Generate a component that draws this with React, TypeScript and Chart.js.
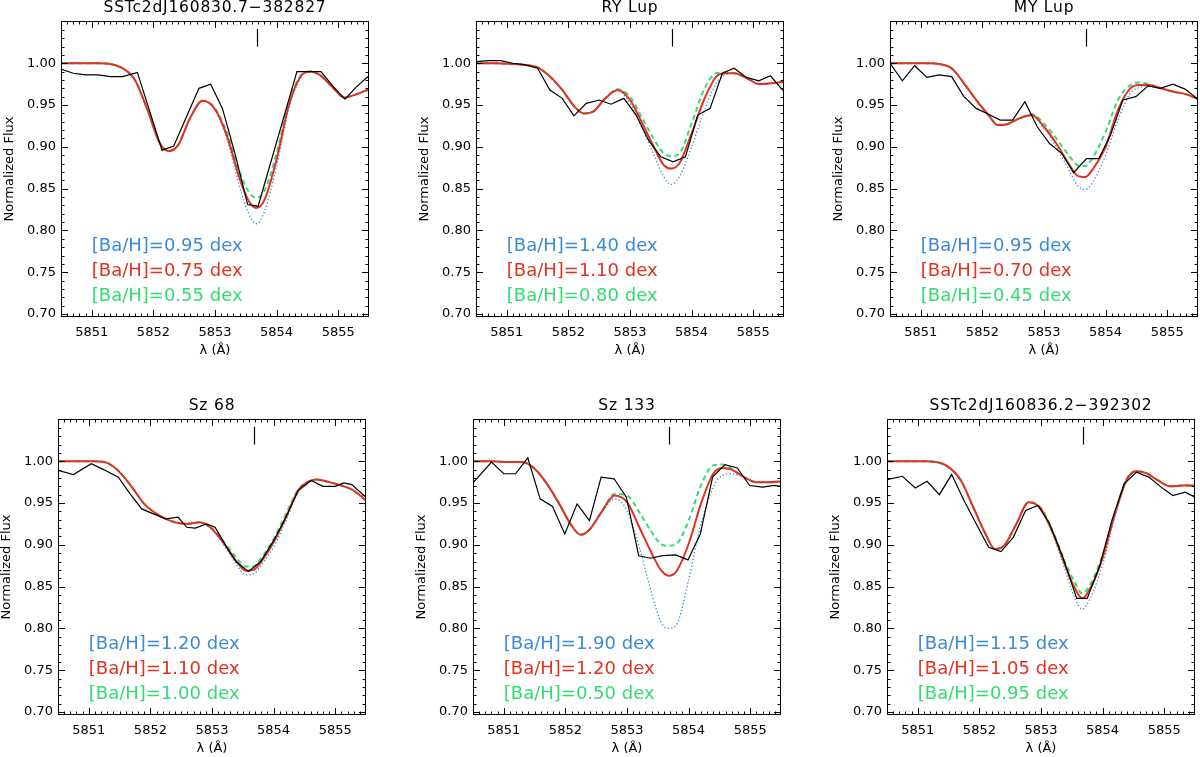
import { useEffect, useRef } from 'react';
import { Chart, registerables } from 'chart.js';

Chart.register(...registerables);

// axis ticks
const X_TICKS = [5851, 5852, 5853, 5854, 5855];
const Y_TICKS = [0.7, 0.75, 0.8, 0.85, 0.9, 0.95, 1.0];

// wavelength grid the synthetic spectra were read on
const SYN_X = [5850.5, 5850.8, 5851.1, 5851.3, 5851.5, 5851.7, 5851.9, 5852.1, 5852.25, 5852.4, 5852.6, 5852.8,
  5853.0, 5853.2, 5853.4, 5853.55, 5853.67, 5853.8, 5854.0, 5854.2, 5854.4, 5854.55, 5854.7, 5854.9, 5855.1, 5855.3, 5855.5];

const TITLES = ['SSTc2dJ160830.7−382827', 'RY Lup', 'MY Lup', 'Sz 68', 'Sz 133', 'SSTc2dJ160836.2−392302'];

// [Ba/H] for blue / red / green
const P1_ABUND = ['0.95', '0.75', '0.55'];
const P2_ABUND = ['1.40', '1.10', '0.80'];
const P3_ABUND = ['0.95', '0.70', '0.45'];
const P4_ABUND = ['1.20', '1.10', '1.00'];
const P5_ABUND = ['1.90', '1.20', '0.50'];
const P6_ABUND = ['1.15', '1.05', '0.95'];

// SSTc2dJ160830.7-382827
const P1_OBS_X = [5850.5, 5850.7, 5850.9, 5851.1, 5851.3, 5851.5, 5851.74, 5852.14, 5852.33, 5852.74, 5852.93, 5853.12, 5853.32, 5853.53, 5853.7, 5854.33, 5854.52, 5854.72, 5854.92, 5855.11, 5855.3, 5855.5];
const P1_OBS_Y = [0.993, 0.988, 0.986, 0.986, 0.984, 0.984, 0.989, 0.896, 0.901, 0.970, 0.975, 0.946, 0.893, 0.831, 0.829, 0.990, 0.990, 0.990, 0.972, 0.957, 0.972, 0.985];
const P1_BLUE = [1.0, 1.0, 1.0, 0.999, 0.994, 0.980, 0.945, 0.905, 0.895, 0.902, 0.935, 0.955, 0.944, 0.908, 0.852, 0.820, 0.808, 0.822, 0.877, 0.946, 0.984, 0.990, 0.986, 0.972, 0.959, 0.963, 0.969];
const P1_RED = [1.0, 1.0, 1.0, 0.999, 0.994, 0.980, 0.945, 0.905, 0.895, 0.902, 0.935, 0.955, 0.945, 0.912, 0.862, 0.835, 0.827, 0.836, 0.885, 0.950, 0.985, 0.990, 0.986, 0.972, 0.959, 0.963, 0.969];
const P1_GREEN = [1.0, 1.0, 1.0, 0.999, 0.994, 0.980, 0.945, 0.905, 0.895, 0.902, 0.935, 0.955, 0.946, 0.916, 0.870, 0.846, 0.839, 0.847, 0.892, 0.953, 0.986, 0.990, 0.986, 0.972, 0.959, 0.963, 0.969];

// RY Lup
const P2_OBS_X = [5850.5, 5850.7, 5850.9, 5851.1, 5851.3, 5851.5, 5851.7, 5851.9, 5852.09, 5852.29, 5852.5, 5852.69, 5852.9, 5853.1, 5853.3, 5853.5, 5853.7, 5853.9, 5854.1, 5854.3, 5854.5, 5854.69, 5854.89, 5855.09, 5855.28, 5855.5];
const P2_OBS_Y = [1.002, 1.003, 1.003, 1.0, 0.998, 0.994, 0.968, 0.958, 0.937, 0.952, 0.956, 0.951, 0.958, 0.938, 0.908, 0.888, 0.882, 0.888, 0.938, 0.946, 0.988, 0.994, 0.983, 0.979, 0.985, 0.966];
const P2_BLUE = [1.0, 1.0, 0.999, 0.998, 0.995, 0.984, 0.968, 0.948, 0.940, 0.942, 0.958, 0.967, 0.952, 0.922, 0.888, 0.864, 0.855, 0.864, 0.900, 0.942, 0.976, 0.986, 0.988, 0.982, 0.975, 0.976, 0.978];
const P2_RED = [1.0, 1.0, 0.999, 0.998, 0.995, 0.984, 0.968, 0.948, 0.940, 0.942, 0.958, 0.968, 0.956, 0.928, 0.898, 0.878, 0.874, 0.880, 0.916, 0.956, 0.984, 0.988, 0.988, 0.982, 0.975, 0.976, 0.978];
const P2_GREEN = [1.0, 1.0, 0.999, 0.998, 0.995, 0.984, 0.968, 0.948, 0.940, 0.942, 0.958, 0.969, 0.960, 0.934, 0.908, 0.892, 0.889, 0.892, 0.928, 0.968, 0.988, 0.989, 0.988, 0.982, 0.975, 0.976, 0.978];

// MY Lup
const P3_OBS_X = [5850.5, 5850.7, 5850.9, 5851.1, 5851.3, 5851.5, 5851.7, 5851.9, 5852.1, 5852.29, 5852.49, 5852.69, 5852.89, 5853.09, 5853.29, 5853.48, 5853.69, 5853.89, 5854.08, 5854.28, 5854.49, 5854.69, 5854.89, 5855.09, 5855.29, 5855.5];
const P3_OBS_Y = [1.0, 0.979, 0.997, 0.983, 0.986, 0.984, 0.960, 0.946, 0.939, 0.932, 0.932, 0.954, 0.924, 0.904, 0.892, 0.869, 0.886, 0.886, 0.914, 0.956, 0.960, 0.973, 0.970, 0.975, 0.969, 0.957];
const P3_BLUE = [1.0, 1.0, 1.0, 0.999, 0.994, 0.976, 0.956, 0.938, 0.926, 0.927, 0.934, 0.937, 0.922, 0.900, 0.873, 0.853, 0.849, 0.859, 0.890, 0.932, 0.964, 0.971, 0.973, 0.970, 0.966, 0.963, 0.957];
const P3_RED = [1.0, 1.0, 1.0, 0.999, 0.994, 0.976, 0.956, 0.938, 0.926, 0.927, 0.934, 0.938, 0.924, 0.904, 0.880, 0.865, 0.864, 0.874, 0.900, 0.944, 0.970, 0.974, 0.974, 0.970, 0.966, 0.963, 0.957];
const P3_GREEN = [1.0, 1.0, 1.0, 0.999, 0.994, 0.976, 0.956, 0.938, 0.926, 0.927, 0.934, 0.939, 0.928, 0.910, 0.890, 0.878, 0.877, 0.888, 0.918, 0.956, 0.974, 0.977, 0.975, 0.970, 0.966, 0.963, 0.957];

// Sz 68
const P4_OBS_X = [5850.5, 5850.75, 5851.04, 5851.24, 5851.48, 5851.67, 5851.86, 5852.05, 5852.25, 5852.45, 5852.59, 5852.73, 5852.91, 5853.05, 5853.24, 5853.39, 5853.59, 5853.79, 5854.0, 5854.2, 5854.4, 5854.61, 5854.8, 5855.0, 5855.14, 5855.27, 5855.5];
const P4_OBS_Y = [0.989, 0.984, 0.997, 0.990, 0.981, 0.961, 0.943, 0.937, 0.931, 0.933, 0.921, 0.920, 0.925, 0.921, 0.897, 0.880, 0.868, 0.880, 0.905, 0.933, 0.965, 0.977, 0.970, 0.970, 0.974, 0.972, 0.957];
const P4_BLUE = [1.0, 1.0, 1.0, 0.998, 0.987, 0.969, 0.949, 0.937, 0.931, 0.927, 0.925, 0.927, 0.918, 0.899, 0.876, 0.864, 0.865, 0.876, 0.897, 0.929, 0.963, 0.974, 0.978, 0.975, 0.971, 0.965, 0.953];
const P4_RED = [1.0, 1.0, 1.0, 0.998, 0.987, 0.969, 0.949, 0.937, 0.931, 0.927, 0.925, 0.927, 0.919, 0.901, 0.880, 0.869, 0.870, 0.880, 0.903, 0.933, 0.965, 0.975, 0.978, 0.975, 0.971, 0.965, 0.953];
const P4_GREEN = [1.0, 1.0, 1.0, 0.998, 0.987, 0.969, 0.949, 0.937, 0.931, 0.927, 0.925, 0.927, 0.920, 0.903, 0.884, 0.874, 0.874, 0.884, 0.907, 0.937, 0.966, 0.975, 0.978, 0.975, 0.971, 0.965, 0.953];

// Sz 133
const P5_OBS_X = [5850.5, 5850.8, 5851.0, 5851.19, 5851.39, 5851.59, 5851.79, 5851.99, 5852.19, 5852.39, 5852.58, 5852.79, 5852.99, 5853.19, 5853.38, 5853.58, 5853.79, 5853.99, 5854.19, 5854.39, 5854.59, 5854.79, 5854.99, 5855.2, 5855.39, 5855.5];
const P5_OBS_Y = [0.974, 0.999, 0.985, 0.985, 1.004, 0.955, 0.946, 0.913, 0.949, 0.929, 0.981, 0.979, 0.957, 0.887, 0.884, 0.887, 0.888, 0.882, 0.913, 0.981, 0.996, 0.992, 0.971, 0.969, 0.971, 0.970];
const P5_BLUE = [1.0, 1.0, 0.999, 0.999, 0.991, 0.973, 0.949, 0.923, 0.912, 0.919, 0.939, 0.955, 0.941, 0.897, 0.842, 0.808, 0.800, 0.804, 0.858, 0.925, 0.969, 0.983, 0.985, 0.981, 0.975, 0.975, 0.976];
const P5_RED = [1.0, 1.0, 0.999, 0.999, 0.991, 0.973, 0.949, 0.923, 0.912, 0.919, 0.941, 0.959, 0.951, 0.921, 0.890, 0.870, 0.863, 0.868, 0.901, 0.949, 0.985, 0.992, 0.990, 0.981, 0.975, 0.975, 0.976];
const P5_GREEN = [1.0, 1.0, 0.999, 0.999, 0.991, 0.973, 0.949, 0.923, 0.912, 0.919, 0.941, 0.961, 0.959, 0.939, 0.915, 0.901, 0.899, 0.901, 0.929, 0.971, 0.995, 0.996, 0.991, 0.981, 0.975, 0.975, 0.976];

// SSTc2dJ160836.2-392302
const P6_OBS_X = [5850.5, 5850.75, 5850.96, 5851.15, 5851.35, 5851.55, 5851.75, 5851.95, 5852.15, 5852.35, 5852.55, 5852.75, 5852.95, 5853.14, 5853.35, 5853.58, 5853.75, 5853.95, 5854.15, 5854.35, 5854.55, 5854.75, 5854.95, 5855.14, 5855.34, 5855.5];
const P6_OBS_Y = [0.978, 0.982, 0.968, 0.976, 0.960, 0.984, 0.953, 0.925, 0.897, 0.892, 0.909, 0.941, 0.947, 0.925, 0.886, 0.836, 0.836, 0.874, 0.929, 0.973, 0.987, 0.981, 0.969, 0.959, 0.963, 0.957];
const P6_BLUE = [1.0, 1.0, 1.0, 0.999, 0.993, 0.977, 0.945, 0.913, 0.895, 0.899, 0.925, 0.951, 0.942, 0.911, 0.868, 0.836, 0.823, 0.836, 0.876, 0.934, 0.978, 0.988, 0.986, 0.977, 0.970, 0.971, 0.971];
const P6_RED = [1.0, 1.0, 1.0, 0.999, 0.993, 0.977, 0.945, 0.913, 0.895, 0.899, 0.925, 0.951, 0.943, 0.913, 0.874, 0.848, 0.836, 0.848, 0.884, 0.937, 0.979, 0.988, 0.986, 0.977, 0.970, 0.971, 0.971];
const P6_GREEN = [1.0, 1.0, 1.0, 0.999, 0.993, 0.977, 0.945, 0.913, 0.895, 0.899, 0.925, 0.951, 0.944, 0.915, 0.878, 0.855, 0.842, 0.853, 0.888, 0.939, 0.980, 0.988, 0.986, 0.977, 0.970, 0.971, 0.971];

const PANELS = [
  { title: TITLES[0], obsX: P1_OBS_X, obsY: P1_OBS_Y, blue: P1_BLUE, red: P1_RED, green: P1_GREEN, abund: P1_ABUND },
  { title: TITLES[1], obsX: P2_OBS_X, obsY: P2_OBS_Y, blue: P2_BLUE, red: P2_RED, green: P2_GREEN, abund: P2_ABUND },
  { title: TITLES[2], obsX: P3_OBS_X, obsY: P3_OBS_Y, blue: P3_BLUE, red: P3_RED, green: P3_GREEN, abund: P3_ABUND },
  { title: TITLES[3], obsX: P4_OBS_X, obsY: P4_OBS_Y, blue: P4_BLUE, red: P4_RED, green: P4_GREEN, abund: P4_ABUND },
  { title: TITLES[4], obsX: P5_OBS_X, obsY: P5_OBS_Y, blue: P5_BLUE, red: P5_RED, green: P5_GREEN, abund: P5_ABUND },
  { title: TITLES[5], obsX: P6_OBS_X, obsY: P6_OBS_Y, blue: P6_BLUE, red: P6_RED, green: P6_GREEN, abund: P6_ABUND },
];

type PanelData = (typeof PANELS)[number];

// layout (plot-area top-left corner of each panel)
const PANEL_POS = [[61, 21], [476, 21], [890, 21], [58, 419], [473, 419], [887, 419]];
const PLOT_W = 308;
const PLOT_H = 296;
const AX_L = 61;
const PAD_T = 21;
const PAD_R = 2;
const AX_B = 42;
const CW = AX_L + PLOT_W + PAD_R;
const CH = PAD_T + PLOT_H + AX_B;

const X_MIN = 5850.5;
const X_MAX = 5855.5;
const Y_MIN = 0.6965;
const Y_MAX = 1.0505;
const MARK_X = 5853.69;
const LEGEND_X = 5851.0;
const LEGEND_Y = [0.781, 0.751, 0.721];

const BLUE = '#3a8ad8';
const RED = '#e2321f';
const GREEN = '#33dc72';
const FONT = '"DejaVu Sans", "Liberation Sans", sans-serif';

const pts = (xs: number[], ys: number[]) => xs.map((x, i) => ({ x, y: ys[i] }));

// IDL-style frame: inward ticks on all sides, titles, abundance labels, line marker
const idlFrame = {
  id: 'idlFrame',
  afterDraw(chart: any, _args: any, opts: any) {
    const { ctx, chartArea: a, scales } = chart;
    const xs = scales.x;
    const ys = scales.y;
    ctx.save();
    ctx.strokeStyle = '#000';
    ctx.lineWidth = 1;
    ctx.strokeRect(a.left + 0.5, a.top + 0.5, a.right - a.left - 1, a.bottom - a.top - 1);

    ctx.beginPath();
    for (let i = 58506; i <= 58554; i++) {
      const px = Math.round(xs.getPixelForValue(i / 10)) + 0.5;
      const len = i % 10 === 0 ? 7 : 3.5;
      ctx.moveTo(px, a.bottom); ctx.lineTo(px, a.bottom - len);
      ctx.moveTo(px, a.top); ctx.lineTo(px, a.top + len);
    }
    for (let j = 70; j <= 105; j++) {
      const v = j / 100;
      if (v < Y_MIN || v > Y_MAX - 0.001) continue;
      const py = Math.round(ys.getPixelForValue(v)) + 0.5;
      const len = j % 5 === 0 ? 7 : 3.5;
      ctx.moveTo(a.left, py); ctx.lineTo(a.left + len, py);
      ctx.moveTo(a.right, py); ctx.lineTo(a.right - len, py);
    }
    ctx.stroke();

    // Ba II line marker
    const mx = xs.getPixelForValue(MARK_X);
    ctx.lineWidth = 1.2;
    ctx.beginPath();
    ctx.moveTo(mx, ys.getPixelForValue(1.041));
    ctx.lineTo(mx, ys.getPixelForValue(1.02));
    ctx.stroke();

    ctx.fillStyle = '#000';
    ctx.textBaseline = 'middle';
    ctx.textAlign = 'center';
    const cx = (a.left + a.right) / 2;
    ctx.font = `15.5px ${FONT}`;
    (ctx as any).letterSpacing = '0.8px';
    ctx.fillText(opts.title, cx, a.top - 13);
    (ctx as any).letterSpacing = '0px';

    ctx.font = `13px ${FONT}`;
    ctx.fillText('λ (Å)', cx, a.bottom + 33.5);
    ctx.save();
    ctx.translate(a.left - 51, (a.top + a.bottom) / 2);
    ctx.rotate(-Math.PI / 2);
    ctx.fillText('Normalized Flux', 0, 0);
    ctx.restore();

    ctx.textAlign = 'left';
    ctx.font = `18px ${FONT}`;
    const cols = [BLUE, RED, GREEN];
    const lx = xs.getPixelForValue(LEGEND_X);
    opts.abund.forEach((ab: string, k: number) => {
      ctx.fillStyle = cols[k];
      ctx.fillText(`[Ba/H]=${ab} dex`, lx, ys.getPixelForValue(LEGEND_Y[k]));
    });
    ctx.restore();
  },
};

function Panel({ p, left, top }: { p: PanelData; left: number; top: number }) {
  const canvasRef = useRef<HTMLCanvasElement>(null);

  useEffect(() => {
    if (!canvasRef.current) return;
    const tickFont = { family: FONT, size: 13 };
    const chart = new Chart(canvasRef.current, {
      type: 'line',
      data: {
        datasets: [
          { label: 'observed', data: pts(p.obsX, p.obsY), borderColor: '#000', borderWidth: 1.2, pointRadius: 0, tension: 0, order: 0 },
          { label: 'red', data: pts(SYN_X, p.red), borderColor: RED, borderWidth: 2, pointRadius: 0, cubicInterpolationMode: 'monotone', order: 1 },
          { label: 'green', data: pts(SYN_X, p.green), borderColor: GREEN, borderWidth: 2, borderDash: [5, 3.5], pointRadius: 0, cubicInterpolationMode: 'monotone', order: 2 },
          { label: 'blue', data: pts(SYN_X, p.blue), borderColor: BLUE, borderWidth: 1.3, borderDash: [1.3, 2.2], pointRadius: 0, cubicInterpolationMode: 'monotone', order: 3 },
        ],
      },
      options: {
        animation: false,
        responsive: false,
        maintainAspectRatio: false,
        events: [],
        layout: { padding: { left: 0, top: PAD_T, right: PAD_R, bottom: 0 } },
        scales: {
          x: {
            type: 'linear',
            min: X_MIN,
            max: X_MAX,
            grid: { display: false, drawTicks: false },
            border: { display: false },
            afterBuildTicks: (s: any) => { s.ticks = X_TICKS.map((value) => ({ value })); },
            afterFit: (s: any) => { s.height = AX_B; },
            ticks: { font: tickFont, color: '#000', padding: 8, maxRotation: 0, callback: (v: any) => String(v) },
          },
          y: {
            min: Y_MIN,
            max: Y_MAX,
            grid: { display: false, drawTicks: false },
            border: { display: false },
            afterBuildTicks: (s: any) => { s.ticks = Y_TICKS.map((value) => ({ value })); },
            afterFit: (s: any) => { s.width = AX_L; },
            ticks: { font: tickFont, color: '#000', padding: 5, callback: (v: any) => Number(v).toFixed(2) },
          },
        },
        plugins: {
          legend: { display: false },
          tooltip: { enabled: false },
          title: { display: false },
          idlFrame: { title: p.title, abund: p.abund },
        } as any,
      },
      plugins: [idlFrame],
    } as any);
    return () => chart.destroy();
  }, [p]);

  return (
    <canvas
      ref={canvasRef}
      width={CW}
      height={CH}
      style={{ position: 'absolute', left, top, width: CW, height: CH }}
    />
  );
}

export default function App() {
  return (
    <div style={{ position: 'absolute', left: 0, top: 0, width: 1200, height: 757, overflow: 'hidden', background: '#fff' }}>
      {PANELS.map((p, i) => (
        <Panel key={p.title} p={p} left={PANEL_POS[i][0] - AX_L} top={PANEL_POS[i][1] - PAD_T} />
      ))}
    </div>
  );
}
